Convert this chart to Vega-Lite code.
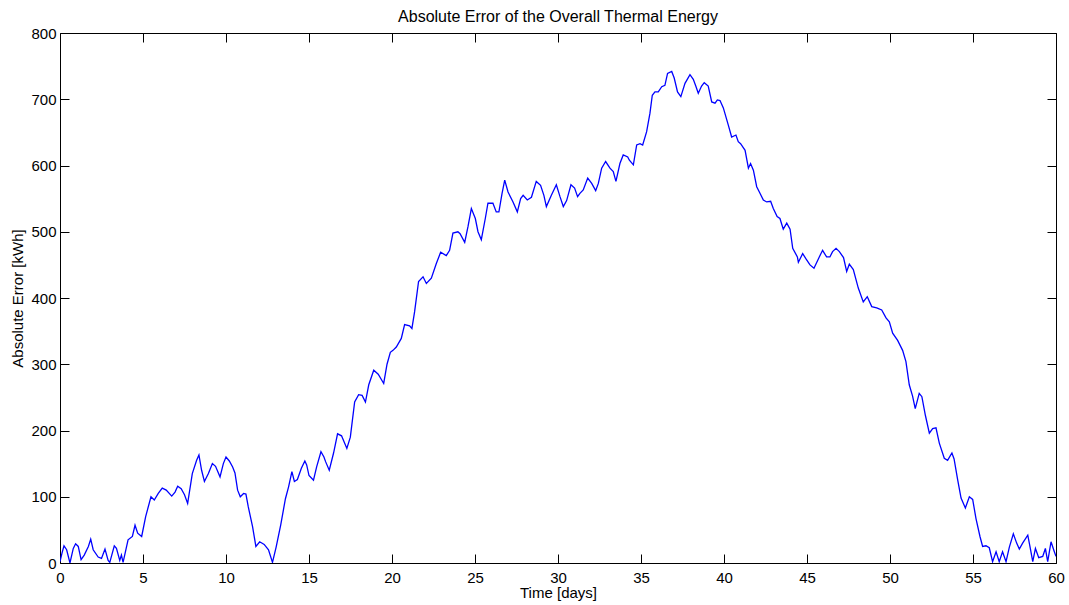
{
"$schema": "https://vega.github.io/schema/vega-lite/v6.json",
"autosize": "none",
"width": 996,
"height": 530,
"padding": {"left": 60, "top": 33, "right": 13, "bottom": 42},
"background": "white",
"config": {"view": {"stroke": null}, "font": "Liberation Sans"},
"title": {"text": "Absolute Error of the Overall Thermal Energy", "fontSize": 16, "fontWeight": "normal", "font": "Liberation Sans", "color": "black", "offset": 1},
"data": {"values": [
{"t":0,"e":2},{"t":0.12,"e":15},{"t":0.24,"e":26},{"t":0.4,"e":20},{"t":0.6,"e":0},{"t":0.8,"e":22},{"t":0.94,"e":29},{"t":1.1,"e":25},{"t":1.27,"e":5},{"t":1.46,"e":12},{"t":1.71,"e":25},{"t":1.85,"e":36},{"t":2.0,"e":20},{"t":2.3,"e":9},{"t":2.5,"e":7},{"t":2.71,"e":21},{"t":2.9,"e":4},{"t":3.0,"e":1},{"t":3.27,"e":26},{"t":3.4,"e":22},{"t":3.6,"e":4},{"t":3.7,"e":12},{"t":3.8,"e":1},{"t":4.1,"e":35},{"t":4.36,"e":40},{"t":4.52,"e":57},{"t":4.68,"e":45},{"t":4.92,"e":40},{"t":5.16,"e":70},{"t":5.48,"e":100},{"t":5.68,"e":95},{"t":5.92,"e":105},{"t":6.16,"e":113},{"t":6.4,"e":110},{"t":6.73,"e":101},{"t":6.93,"e":107},{"t":7.09,"e":116},{"t":7.3,"e":112},{"t":7.5,"e":103},{"t":7.69,"e":90},{"t":7.97,"e":135},{"t":8.23,"e":155},{"t":8.37,"e":163},{"t":8.53,"e":140},{"t":8.7,"e":123},{"t":8.94,"e":135},{"t":9.18,"e":150},{"t":9.37,"e":146},{"t":9.64,"e":130},{"t":9.84,"e":150},{"t":10.0,"e":160},{"t":10.2,"e":154},{"t":10.4,"e":145},{"t":10.54,"e":136},{"t":10.7,"e":110},{"t":10.86,"e":100},{"t":11.06,"e":105},{"t":11.2,"e":104},{"t":11.34,"e":85},{"t":11.6,"e":55},{"t":11.8,"e":25},{"t":12.03,"e":32},{"t":12.3,"e":28},{"t":12.56,"e":20},{"t":12.8,"e":1},{"t":13.02,"e":24},{"t":13.3,"e":58},{"t":13.58,"e":97},{"t":13.77,"e":115},{"t":13.97,"e":138},{"t":14.12,"e":123},{"t":14.3,"e":126},{"t":14.54,"e":143},{"t":14.75,"e":154},{"t":14.86,"e":148},{"t":15.0,"e":132},{"t":15.27,"e":125},{"t":15.46,"e":145},{"t":15.72,"e":168},{"t":15.9,"e":160},{"t":16.0,"e":153},{"t":16.22,"e":140},{"t":16.48,"e":166},{"t":16.72,"e":195},{"t":16.96,"e":192},{"t":17.28,"e":173},{"t":17.49,"e":190},{"t":17.75,"e":243},{"t":17.99,"e":254},{"t":18.2,"e":253},{"t":18.4,"e":243},{"t":18.6,"e":269},{"t":18.9,"e":291},{"t":19.17,"e":285},{"t":19.5,"e":271},{"t":19.7,"e":300},{"t":19.9,"e":318},{"t":20.06,"e":321},{"t":20.26,"e":326},{"t":20.56,"e":339},{"t":20.76,"e":360},{"t":21.06,"e":358},{"t":21.2,"e":354},{"t":21.36,"e":379},{"t":21.6,"e":425},{"t":21.87,"e":432},{"t":22.07,"e":422},{"t":22.37,"e":430},{"t":22.67,"e":452},{"t":22.93,"e":469},{"t":23.27,"e":464},{"t":23.47,"e":472},{"t":23.67,"e":498},{"t":23.97,"e":500},{"t":24.1,"e":497},{"t":24.38,"e":484},{"t":24.58,"e":508},{"t":24.78,"e":535},{"t":25.02,"e":520},{"t":25.18,"e":500},{"t":25.38,"e":488},{"t":25.62,"e":520},{"t":25.78,"e":543},{"t":26.08,"e":543},{"t":26.28,"e":530},{"t":26.44,"e":530},{"t":26.63,"e":558},{"t":26.79,"e":578},{"t":26.99,"e":560},{"t":27.29,"e":545},{"t":27.55,"e":530},{"t":27.75,"e":550},{"t":27.9,"e":555},{"t":28.15,"e":548},{"t":28.4,"e":552},{"t":28.69,"e":576},{"t":28.95,"e":570},{"t":29.15,"e":555},{"t":29.3,"e":538},{"t":29.6,"e":555},{"t":29.9,"e":571},{"t":30.12,"e":553},{"t":30.32,"e":538},{"t":30.52,"e":547},{"t":30.78,"e":571},{"t":31.0,"e":566},{"t":31.18,"e":553},{"t":31.32,"e":558},{"t":31.52,"e":563},{"t":31.79,"e":581},{"t":32.03,"e":573},{"t":32.27,"e":562},{"t":32.43,"e":573},{"t":32.63,"e":596},{"t":32.87,"e":606},{"t":33.13,"e":596},{"t":33.33,"e":591},{"t":33.49,"e":576},{"t":33.73,"e":603},{"t":33.93,"e":616},{"t":34.2,"e":613},{"t":34.3,"e":608},{"t":34.54,"e":601},{"t":34.74,"e":631},{"t":34.94,"e":633},{"t":35.1,"e":631},{"t":35.34,"e":651},{"t":35.54,"e":679},{"t":35.68,"e":706},{"t":35.84,"e":711},{"t":36.04,"e":711},{"t":36.25,"e":719},{"t":36.44,"e":721},{"t":36.6,"e":739},{"t":36.85,"e":742},{"t":37.0,"e":732},{"t":37.2,"e":711},{"t":37.4,"e":704},{"t":37.65,"e":724},{"t":37.95,"e":737},{"t":38.15,"e":730},{"t":38.3,"e":720},{"t":38.45,"e":709},{"t":38.65,"e":720},{"t":38.81,"e":725},{"t":39.05,"e":720},{"t":39.26,"e":696},{"t":39.46,"e":694},{"t":39.6,"e":699},{"t":39.76,"e":698},{"t":39.96,"e":687},{"t":40.26,"e":661},{"t":40.46,"e":643},{"t":40.72,"e":646},{"t":40.86,"e":636},{"t":41.0,"e":633},{"t":41.27,"e":623},{"t":41.47,"e":596},{"t":41.6,"e":603},{"t":41.77,"e":593},{"t":41.97,"e":568},{"t":42.13,"e":560},{"t":42.37,"e":548},{"t":42.57,"e":545},{"t":42.81,"e":546},{"t":42.97,"e":535},{"t":43.2,"e":523},{"t":43.37,"e":520},{"t":43.57,"e":504},{"t":43.78,"e":513},{"t":43.98,"e":504},{"t":44.14,"e":475},{"t":44.42,"e":462},{"t":44.48,"e":454},{"t":44.74,"e":467},{"t":44.94,"e":459},{"t":45.18,"e":450},{"t":45.42,"e":445},{"t":45.74,"e":462},{"t":45.94,"e":472},{"t":46.18,"e":462},{"t":46.38,"e":462},{"t":46.54,"e":470},{"t":46.75,"e":475},{"t":46.95,"e":470},{"t":47.2,"e":461},{"t":47.39,"e":440},{"t":47.55,"e":451},{"t":47.79,"e":443},{"t":48.09,"e":415},{"t":48.39,"e":394},{"t":48.63,"e":402},{"t":48.9,"e":387},{"t":49.2,"e":385},{"t":49.5,"e":382},{"t":49.76,"e":370},{"t":49.96,"e":364},{"t":50.16,"e":347},{"t":50.46,"e":336},{"t":50.76,"e":321},{"t":50.96,"e":304},{"t":51.16,"e":269},{"t":51.36,"e":252},{"t":51.52,"e":233},{"t":51.76,"e":256},{"t":51.92,"e":251},{"t":52.13,"e":223},{"t":52.37,"e":196},{"t":52.57,"e":203},{"t":52.77,"e":204},{"t":52.97,"e":181},{"t":53.27,"e":158},{"t":53.47,"e":155},{"t":53.73,"e":166},{"t":53.86,"e":157},{"t":54.08,"e":125},{"t":54.28,"e":98},{"t":54.54,"e":83},{"t":54.78,"e":100},{"t":54.98,"e":96},{"t":55.18,"e":67},{"t":55.42,"e":40},{"t":55.58,"e":25},{"t":55.78,"e":26},{"t":55.98,"e":23},{"t":56.18,"e":2},{"t":56.39,"e":17},{"t":56.58,"e":2},{"t":56.78,"e":17},{"t":56.99,"e":2},{"t":57.19,"e":24},{"t":57.43,"e":44},{"t":57.63,"e":30},{"t":57.79,"e":21},{"t":57.99,"e":30},{"t":58.3,"e":42},{"t":58.43,"e":25},{"t":58.6,"e":2},{"t":58.76,"e":22},{"t":58.96,"e":8},{"t":59.2,"e":10},{"t":59.36,"e":22},{"t":59.5,"e":2},{"t":59.7,"e":32},{"t":59.9,"e":17},{"t":60,"e":10}
]},
"layer": [
{
"mark": {"type": "line", "color": "#0000ff", "strokeWidth": 1.3, "clip": true},
"encoding": {
"x": {"field": "t", "type": "quantitative", "scale": {"domain": [0, 60], "nice": false, "zero": false},
"axis": {"orient": "bottom", "title": "Time [days]", "values": [0,5,10,15,20,25,30,35,40,45,50,55,60], "grid": false, "tickSize": -9, "labelPadding": 16, "labelFontSize": 15, "labelColor": "black", "titleFontSize": 15, "titleFontWeight": "normal", "titleColor": "black", "titlePadding": 0, "domainColor": "black", "tickColor": "black", "labelFont": "Liberation Sans", "titleFont": "Liberation Sans", "labelFlush": false, "labelOverlap": false}},
"y": {"field": "e", "type": "quantitative", "scale": {"domain": [0, 800], "nice": false},
"axis": {"orient": "left", "title": "Absolute Error [kWh]", "values": [0,100,200,300,400,500,600,700,800], "grid": false, "tickSize": -9, "labelPadding": 13, "labelFontSize": 15, "labelColor": "black", "titleFontSize": 15, "titleFontWeight": "normal", "titleColor": "black", "titlePadding": 5, "domainColor": "black", "tickColor": "black", "labelFont": "Liberation Sans", "titleFont": "Liberation Sans", "labelOverlap": false}}
}
},
{
"mark": {"type": "line", "opacity": 0},
"encoding": {
"x": {"field": "t", "type": "quantitative", "axis": {"orient": "top", "title": null, "labels": false, "values": [0,5,10,15,20,25,30,35,40,45,50,55,60], "grid": false, "tickSize": -9, "domainColor": "black", "tickColor": "black"}},
"y": {"field": "e", "type": "quantitative", "axis": {"orient": "right", "title": null, "labels": false, "values": [0,100,200,300,400,500,600,700,800], "grid": false, "tickSize": -9, "domainColor": "black", "tickColor": "black"}}
}
}
],
"resolve": {"axis": {"x": "independent", "y": "independent"}}
}
